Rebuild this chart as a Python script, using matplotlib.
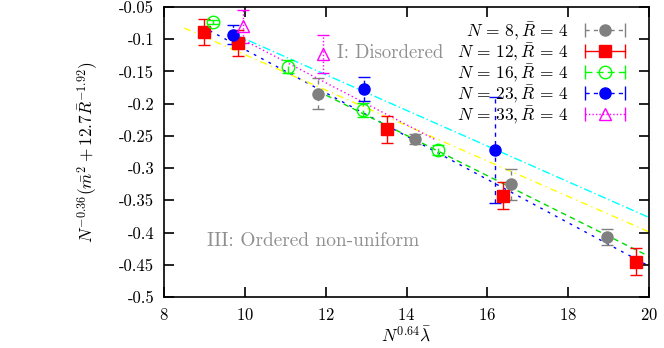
import numpy as np
import matplotlib
matplotlib.use('Agg')
import matplotlib.pyplot as plt
from matplotlib.lines import Line2D
from matplotlib.legend_handler import HandlerLine2D
from matplotlib.ticker import FuncFormatter

plt.rcParams['font.family'] = 'serif'
plt.rcParams['font.serif'] = ['cmr10']
plt.rcParams['mathtext.fontset'] = 'cm'
plt.rcParams['axes.unicode_minus'] = False
plt.rcParams['axes.formatter.use_mathtext'] = True

# data
labels = [r'$N\,=\,8, \bar{R}\,=\,4$', r'$N\,=\,12, \bar{R}\,=\,4$', r'$N\,=\,16, \bar{R}\,=\,4$',
          r'$N\,=\,23, \bar{R}\,=\,4$', r'$N\,=\,33, \bar{R}\,=\,4$']

x_n8 = [11.82, 14.20, 16.59, 18.96]
y_n8 = [-0.185, -0.255, -0.325, -0.407]
e_n8 = [0.024, 0.008, 0.024, 0.013]

x_n12 = [8.99, 9.82, 13.51, 16.39, 19.67]
y_n12 = [-0.089, -0.106, -0.240, -0.343, -0.445]
e_n12 = [0.020, 0.020, 0.021, 0.021, 0.021]

x_n16 = [9.21, 11.06, 12.92, 14.77]
y_n16 = [-0.074, -0.143, -0.210, -0.272]
e_n16 = [0.003, 0.010, 0.011, 0.008]

x_n23 = [9.71, 12.96, 16.20]
y_n23 = [-0.093, -0.177, -0.272]
e_n23 = [0.015, 0.019, 0.082]

x_n33 = [9.96, 11.94]
y_n33 = [-0.080, -0.123]
e_n33 = [0.026, 0.029]

# fit lines: (x start, x end, slope, intercept)
fit_x0 = [8.95, 11.8, 8.5, 9.75, 9.9]
fit_x1 = [20.0, 20.0, 20.0, 20.0, 14.7]
fit_a = [-0.0336, -0.0313, -0.0275, -0.0277, -0.0326]
fit_b = [0.220, 0.189, 0.151, 0.1774, 0.2237]
fit_col = ['#0000ff', '#00dd00', '#ffff00', '#00ffff', '#ff00ff']
fit_ls = [(0, (2, 4)), (0, (4, 3)), (0, (5, 3, 1, 3)), (0, (6, 2, 1, 2)), (0, (1, 2))]

fig = plt.figure(figsize=(6.64, 3.48), dpi=100)
ax = fig.add_axes([0.247, 0.1466, 0.7304, 0.8334])

for x0, x1, a, b, c, ls in zip(fit_x0, fit_x1, fit_a, fit_b, fit_col, fit_ls):
    xs = np.array([x0, x1])
    ax.plot(xs, a * xs + b, color=c, ls=ls, lw=1.0, zorder=1)

series = [
    (x_n8, y_n8, e_n8, '#808080', 'o', '#808080', (0, (3, 3)), 8),
    (x_n12, y_n12, e_n12, '#ff0000', 's', '#ff0000', '-', 8.5),
    (x_n16, y_n16, e_n16, '#00ff00', 'o', 'none', (0, (5, 3)), 9),
    (x_n23, y_n23, e_n23, '#0000ff', 'o', '#0000ff', (0, (3, 3)), 8),
    (x_n33, y_n33, e_n33, '#ff00ff', '^', 'none', (0, (1, 1.5)), 8),
]

handles = []
hmap = {}
for (xs, ys, es, c, m, fc, ls, ms) in series:
    eb = ax.errorbar(xs, ys, yerr=es, fmt=m, color=c, mfc=fc, mec=c, ms=ms,
                     mew=1.0, elinewidth=1.0, capsize=4, capthick=1.0, zorder=3)
    eb[2][0].set_linestyle(ls)
    cap = Line2D([], [], color=c, ls=ls, lw=1.0, marker='|', ms=10, mew=1.0)
    mk = Line2D([], [], ls='none', color=c, marker=m, mfc=fc, mec=c, ms=ms, mew=1.0)
    hmap[cap] = HandlerLine2D(numpoints=2)
    hmap[mk] = HandlerLine2D(numpoints=1)
    handles.append((cap, mk))

ax.legend(handles, labels, handler_map=hmap, loc='upper right',
          bbox_to_anchor=(0.975, 0.978), frameon=False, markerfirst=False,
          fontsize=12.5, handlelength=2.9, handletextpad=0.6, labelspacing=-0.05,
          borderaxespad=0.0)

ax.text(12.27, -0.122, 'I: Disordered', color='#909090', fontsize=13.5, va='center', ha='left')
ax.text(9.07, -0.413, 'III: Ordered non-uniform', color='#909090', fontsize=14, va='center', ha='left')

ax.set_xlim(8, 20)
ax.set_ylim(-0.5, -0.05)
ax.set_xticks(np.arange(8, 21, 2))
ax.set_yticks(np.arange(-0.5, -0.049, 0.05))
ax.yaxis.set_major_formatter(FuncFormatter(lambda v, p: '%g' % round(v, 2)))
ax.tick_params(direction='in', top=True, right=True, length=7, width=1.2,
               labelsize=12, pad=7)
for s in ax.spines.values():
    s.set_linewidth(1.2)

ax.set_xlabel(r'$N^{0.64}\bar{\lambda}$', fontsize=12.5, labelpad=2)
ax.set_ylabel(r'$N^{-0.36}(\bar{m}^2 + 12.7\bar{R}^{-1.92})$', fontsize=12.5, labelpad=14)

fig.savefig('out.png', dpi=100)
